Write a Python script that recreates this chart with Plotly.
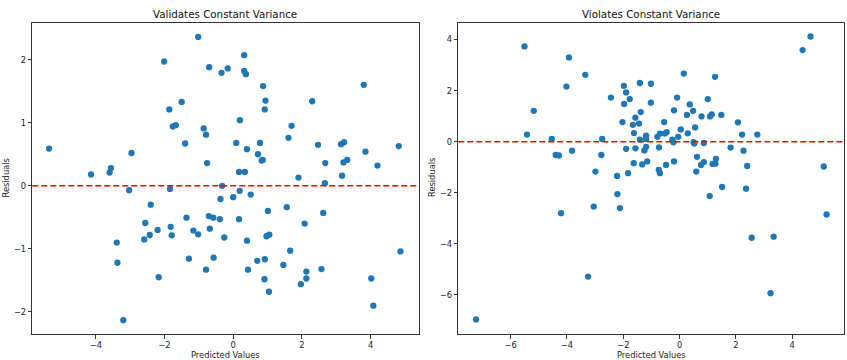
import plotly.graph_objects as go
from plotly.subplots import make_subplots

# Left: validates constant variance
pred_valid = [-5.36, -4.14, -3.60, -3.56, -2.96, -2.01, -1.86, -1.50, -1.76, -1.67,
              -1.40, -1.02, -0.70, -0.86, -0.79, -0.76, -0.34, -0.16, 0.32, 0.32,
              0.37, 0.87, 0.94, 0.92, 0.195, 2.30, 3.80, 1.70, 1.61, 0.09,
              0.40, 0.78, 0.72, 0.83, 0.86, 2.47, 3.14, 3.23, 3.85, 4.82,
              2.68, 3.21, 3.32, 4.20, 0.17, 0.34, 3.17, 1.90, 2.67, -0.32,
              0.19, 0.00, 0.51, -0.37, 1.56, 1.01, 2.62, 0.17, 2.08, -0.26,
              0.40, 0.97, 1.05, 1.66, 0.70, 0.92, 4.87, 0.43, 1.46, 2.57,
              2.13, 2.13, 0.91, 1.97, 4.02, 1.04, 4.08, -3.03, -1.84, -2.40,
              -2.56, -1.36, -0.71, -0.58, -0.39, -2.20, -1.82, -1.16, -1.02, -0.68,
              -2.59, -2.43, -1.79, -3.39, -3.37, -1.29, -0.57, -0.79, -2.17, -3.20]
res_valid = [0.59, 0.18, 0.21, 0.28, 0.52, 1.97, 1.21, 1.33, 0.94, 0.96,
             0.67, 2.36, 1.88, 0.91, 0.81, 0.36, 1.79, 1.86, 2.07, 1.82,
             1.77, 1.58, 1.35, 1.21, 1.04, 1.34, 1.60, 0.95, 0.76, 0.68,
             0.58, 0.68, 0.50, 0.40, 0.41, 0.65, 0.66, 0.69, 0.54, 0.63,
             0.36, 0.37, 0.41, 0.32, 0.22, 0.22, 0.16, 0.13, 0.04, 0.00,
             -0.08, -0.18, -0.14, -0.21, -0.34, -0.40, -0.43, -0.53, -0.60, -0.82,
             -0.87, -0.80, -0.775, -1.03, -1.19, -1.165, -1.04, -1.33, -1.255, -1.32,
             -1.36, -1.47, -1.48, -1.56, -1.47, -1.68, -1.90, -0.07, -0.05, -0.30,
             -0.59, -0.505, -0.48, -0.505, -0.53, -0.70, -0.65, -0.71, -0.77, -0.68,
             -0.85, -0.78, -0.785, -0.90, -1.22, -1.155, -1.14, -1.33, -1.45, -2.13]

# Right: violates constant variance
pred_violate = [-5.51, -3.93, -3.35, -4.02, -5.18, -5.42, -4.54, -4.40, -4.29, -3.82,
                -2.75, -2.78, -2.99, -2.22, -1.83, -2.44, -1.98, -1.90, -1.77, -1.97,
                -2.03, -1.66, -1.57, -1.62, -1.90, -1.57, -1.63, -1.41, -1.02, -1.02,
                -1.38, -1.44, -1.19, -1.41, -0.79, -0.70, 0.15, 1.26, -0.09, 0.36,
                1.00, -0.20, 0.48, 0.26, 0.78, 1.08, 1.14, 1.48, -0.55, 2.07,
                0.04, 0.55, 0.29, 2.22, 2.76, -0.53, -0.46, -0.26, -0.22, -0.05,
                0.50, 0.52, 0.86, -0.73, -0.48, -0.20, -0.74, -0.70, 0.62, 0.59,
                0.76, 0.86, 1.17, 1.27, 1.29, 1.51, 1.07, 1.81, 2.27, 2.40,
                2.36, -1.19, -1.25, -1.19, -1.33, -1.15, -2.21, -3.05, -2.12, -4.21,
                -3.25, -7.23, 5.22, 2.56, 3.34, 3.23, 4.65, 4.37, 5.12]
res_violate = [3.73, 3.30, 2.62, 2.16, 1.21, 0.28, 0.11, -0.52, -0.54, -0.35,
               0.11, -0.52, -1.17, -1.34, -1.23, 1.73, 2.19, 1.93, 1.67, 1.48,
               0.77, 0.66, 0.94, 0.34, -0.28, -0.26, -0.84, 2.30, 2.27, 1.53,
               1.16, 0.71, 0.24, 0.08, 0.19, 0.32, 2.67, 2.54, 1.73, 1.46,
               1.67, 1.23, 1.21, 1.05, 0.99, 0.99, 1.07, 1.05, 0.77, 0.76,
               0.48, 0.56, 0.33, 0.28, 0.28, 0.32, 0.37, 0.08, -0.02, 0.19,
               -0.02, -0.07, -0.05, -0.22, -0.91, -0.77, -1.10, -1.23, -0.59, -1.17,
               -0.91, -0.80, -0.87, -0.86, -0.67, -1.77, -2.13, -0.23, -0.35, -0.95,
               -1.84, 0.11, -0.34, -0.20, -0.89, -0.77, -2.05, -2.54, -2.60, -2.80,
               -5.28, -6.96, -2.85, -3.76, -3.72, -5.93, 4.12, 3.59, -0.97]

valid_xticks = [-4, -2, 0, 2, 4]
valid_yticks = [-2, -1, 0, 1, 2]
violate_xticks = [-6, -4, -2, 0, 2, 4]
violate_yticks = [-6, -4, -2, 0, 2, 4]

def lab(v):
    return str(v).replace("-", "\u2212")

BLUE = "#1f77b4"
FONT = "DejaVu Sans"

fig = make_subplots(rows=1, cols=2)
fig.add_trace(go.Scatter(x=pred_valid, y=res_valid, mode="markers",
                         marker=dict(color=BLUE, size=6.3, line=dict(width=0)),
                         showlegend=False, hoverinfo="skip"), row=1, col=1)
fig.add_trace(go.Scatter(x=pred_violate, y=res_violate, mode="markers",
                         marker=dict(color=BLUE, size=6.3, line=dict(width=0)),
                         showlegend=False, hoverinfo="skip"), row=1, col=2)

for xref, yref in (("x", "y"), ("x2", "y2")):
    fig.add_shape(type="line", xref=xref + " domain", yref=yref, x0=0, x1=1, y0=0, y1=0,
                  line=dict(color="red", width=1.4, dash="6px,3px"), layer="above")

axis_common = dict(showgrid=False, zeroline=False, showline=True, mirror=True,
                   linecolor="#333333", linewidth=1, ticks="outside", ticklen=3.5,
                   tickwidth=0.8, tickcolor="#333333", automargin=False,
                   tickfont=dict(family=FONT, size=8.3, color="#222222"))

fig.update_xaxes(**axis_common, row=1, col=1, domain=[0.0381, 0.4943],
                 range=[-5.85, 5.40], tickvals=valid_xticks,
                 ticktext=[lab(v) for v in valid_xticks])
fig.update_yaxes(**axis_common, row=1, col=1, domain=[0.0722, 0.9369],
                 range=[-2.35, 2.585], tickvals=valid_yticks,
                 ticktext=[lab(v) for v in valid_yticks])
fig.update_xaxes(**axis_common, row=1, col=2, domain=[0.5411, 0.9965],
                 range=[-7.86, 5.84], tickvals=violate_xticks,
                 ticktext=[lab(v) for v in violate_xticks])
fig.update_yaxes(**axis_common, row=1, col=2, domain=[0.0722, 0.9369],
                 range=[-7.53, 4.66], tickvals=violate_yticks,
                 ticktext=[lab(v) for v in violate_yticks])

ann = []
tfont = dict(family=FONT, size=10.3, color="#111111")
lfont = dict(family=FONT, size=8.3, color="#222222")
ann.append(dict(text="Validates Constant Variance", x=(0.0381 + 0.4943) / 2, y=(360 - 14) / 360,
                xref="paper", yref="paper", showarrow=False, font=tfont,
                xanchor="center", yanchor="middle"))
ann.append(dict(text="Violates Constant Variance", x=(0.5411 + 0.9965) / 2, y=(360 - 14) / 360,
                xref="paper", yref="paper", showarrow=False, font=tfont,
                xanchor="center", yanchor="middle"))
ann.append(dict(text="Predicted Values", x=(0.0381 + 0.4943) / 2, y=(360 - 355) / 360,
                xref="paper", yref="paper", showarrow=False, font=lfont,
                xanchor="center", yanchor="middle"))
ann.append(dict(text="Predicted Values", x=(0.5411 + 0.9965) / 2, y=(360 - 355) / 360,
                xref="paper", yref="paper", showarrow=False, font=lfont,
                xanchor="center", yanchor="middle"))
ann.append(dict(text="Residuals", x=5.5 / 847, y=(360 - 178) / 360,
                xref="paper", yref="paper", showarrow=False, font=lfont, textangle=-90,
                xanchor="center", yanchor="middle"))
ann.append(dict(text="Residuals", x=432 / 847, y=(360 - 178) / 360,
                xref="paper", yref="paper", showarrow=False, font=lfont, textangle=-90,
                xanchor="center", yanchor="middle"))

fig.update_layout(width=847, height=360, margin=dict(l=0, r=0, t=0, b=0, autoexpand=False),
                  paper_bgcolor="white", plot_bgcolor="white", annotations=ann,
                  font=dict(family=FONT))

fig.write_html("out.html", config={"displayModeBar": False},
               post_script="document.body.style.margin='0';document.body.style.overflow='hidden';")
